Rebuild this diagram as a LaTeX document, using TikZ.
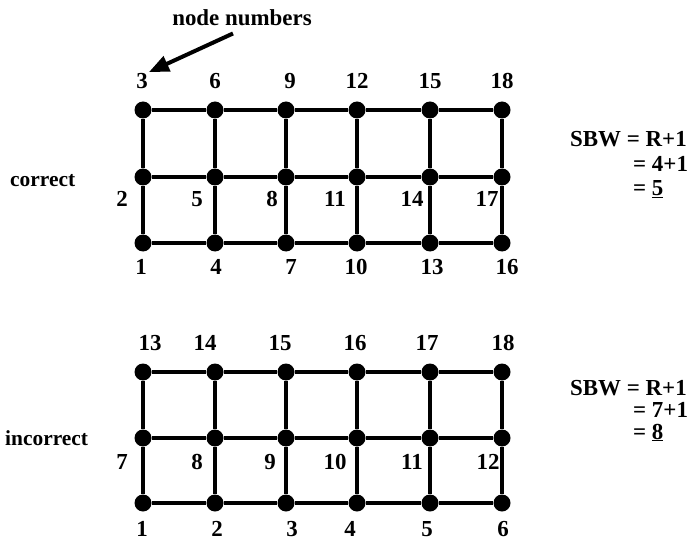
\documentclass[tikz,border=0pt]{standalone}
\usepackage{fontspec}
\setmainfont{Liberation Serif}
\usetikzlibrary{arrows.meta}
\tikzset{
  dot/.style={circle,fill=black,inner sep=0pt,minimum size=17bp},
  wire/.style={line width=3.8bp},
  num/.style={font=\fontsize{23}{24}\selectfont\bfseries,inner sep=1bp},
  side/.style={font=\fontsize{21.5}{23}\selectfont\bfseries,anchor=base west,inner sep=0pt},
  pointer/.style={line width=4bp,-{Triangle[length=20bp,width=16bp]}},
}
\begin{document}
\begin{tikzpicture}[x=1bp,y=-1bp]
\useasboundingbox (0,0) rectangle (696,541);
% grid points, c = correct, i = incorrect
\foreach \c/\x in {0/143,1/215,2/286,3/357,4/430,5/502}{
  \foreach \r/\y in {0/243,1/177,2/110}
    \node[dot] (c\c\r) at (\x,\y) {};
  \foreach \r/\y in {0/503,1/438,2/372}
    \node[dot] (i\c\r) at (\x,\y) {};
}
% grid lines
\foreach \g in {c,i}{
  \foreach \r in {0,1,2}
    \draw[wire] (\g0\r) -- (\g1\r) -- (\g2\r) -- (\g3\r) -- (\g4\r) -- (\g5\r);
  \foreach \c in {0,...,5}
    \draw[wire] (\g\c0) -- (\g\c1) -- (\g\c2);
}
% node numbers, correct
\foreach \n/\x/\y in {3/142/81, 6/215/81, 9/290/81, 12/357/81, 15/430/81, 18/502/81,
  2/122/199, 5/197/199, 8/272/199, 11/335/199, 14/412/199, 17/487/199,
  1/141/267, 4/216/267, 7/291/267, 10/356/267, 13/432/267, 16/507/267}
  \node[num] (cn\n) at (\x,\y) {\n};
% node numbers, incorrect
\foreach \n/\x/\y in {13/150/343, 14/205/343, 15/280/343, 16/355/343, 17/427/343, 18/503/343,
  7/122/462, 8/197/462, 9/270/462, 10/335/462, 11/412/462, 12/488/462,
  1/142/529, 2/217/529, 3/292/529, 4/350/529, 5/427/529, 6/503/529}
  \node[num] (in\n) at (\x,\y) {\n};
\node[num,anchor=base] (nn) at (242,26) {node numbers};
\draw[pointer] ([shift={(-9,6)}]nn.south) -- (cn3.north east);
\node[side] (cor) at (10,187) {correct};
\node[side] (inc) at (5,445) {incorrect};
% bandwidth
\node[num,anchor=base west] (sbwc) at (569,147) {SBW = R+1};
\node[num,anchor=base west] (eqca) at (632,172) {= 4+1};
\node[num,anchor=base west] (eqcb) at (632,196) {= \underline{5}};
\node[num,anchor=base west] (sbwi) at (569,395) {SBW = R+1};
\node[num,anchor=base west] (eqia) at (632,417) {= 7+1};
\node[num,anchor=base west] (eqib) at (632,439) {= \underline{8}};
\end{tikzpicture}
\end{document}
